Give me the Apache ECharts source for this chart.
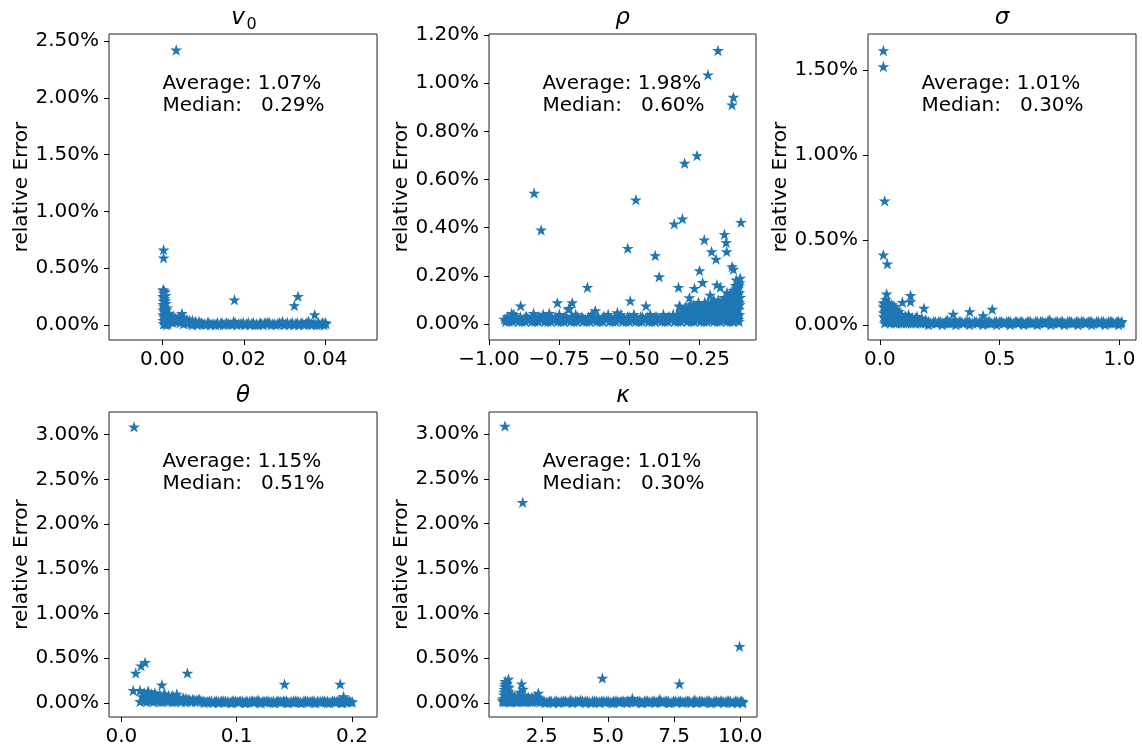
<!DOCTYPE html>
<html><head><meta charset="utf-8">
<script src="https://cdn.jsdelivr.net/npm/echarts@6/dist/echarts.min.js"></script>
<style>html,body{margin:0;padding:0;background:#fff}#c{width:1142px;height:749px}</style>
</head><body><div id="c"></div>
<script>
// ---------- DATA (relative error in %) ----------
const v0Outliers = [[0.0034,2.42],[0.0003,0.66],[0.0003,0.59],[0.0177,0.22],[0.0324,0.17],[0.0333,0.25],[0.0374,0.09]];
const v0Cluster = [[0.0002,0.31],[0.0004,0.30],[0.0003,0.28],[0.0006,0.29],[0.0002,0.25],[0.0005,0.23],[0.0003,0.21],[0.0008,0.26],[0.0002,0.18],[0.0004,0.16],[0.0009,0.19],[0.0002,0.13],[0.0006,0.11],[0.0002,0.09],[0.0004,0.07],[0.0010,0.13],[0.0002,0.04],[0.0007,0.03],[0.0011,0.08],[0.0003,0.01],[0.0009,0.02],[0.0013,0.05],[0.0012,0.15],
 [0.0016,0.10],[0.0022,0.07],[0.0027,0.08],[0.0033,0.06],[0.0040,0.07],[0.0048,0.10],[0.0054,0.06],[0.0060,0.05],[0.0067,0.04],[0.0074,0.04],[0.0082,0.03],[0.0090,0.03],[0.0018,0.03],[0.0026,0.02],[0.0035,0.03],[0.0044,0.02],[0.0052,0.01],[0.0062,0.02],[0.0014,0.01]];
const v0Band = [[0.0070,0.01],[0.0078,0.02],[0.0086,0.00],[0.0095,0.02],[0.0103,0.01],[0.0111,0.02],[0.0118,0.00],[0.0127,0.01],[0.0135,0.02],[0.0143,0.01],[0.0150,0.00],[0.0158,0.02],[0.0167,0.01],[0.0175,0.03],[0.0183,0.00],[0.0191,0.01],[0.0199,0.02],[0.0207,0.01],[0.0215,0.00],[0.0223,0.02],[0.0231,0.01],[0.0240,0.02],[0.0248,0.00],[0.0256,0.01],[0.0263,0.02],[0.0271,0.01],[0.0279,0.00],[0.0287,0.02],[0.0295,0.03],[0.0303,0.01],[0.0311,0.00],[0.0319,0.02],[0.0327,0.01],[0.0335,0.00],[0.0343,0.02],[0.0351,0.01],[0.0359,0.03],[0.0367,0.00],[0.0375,0.01],[0.0383,0.02],[0.0390,0.01],[0.0397,0.00],[0.0402,0.01],
 [0.0074,0.00],[0.0090,0.01],[0.0107,0.00],[0.0122,0.01],[0.0139,0.00],[0.0154,0.01],[0.0171,0.00],[0.0187,0.01],[0.0203,0.00],[0.0219,0.01],[0.0235,0.00],[0.0252,0.02],[0.0267,0.00],[0.0283,0.01],[0.0299,0.00],[0.0315,0.01],[0.0331,0.02],[0.0347,0.00],[0.0363,0.01],[0.0379,0.00],[0.0394,0.02]];
const v0Fill = [[0.0066,0.02],[0.0082,0.01],[0.0099,0.01],[0.0114,0.02],[0.0131,0.00],[0.0146,0.02],[0.0162,0.01],[0.0179,0.02],[0.0195,0.01],[0.0211,0.02],[0.0227,0.00],[0.0244,0.01],[0.0259,0.02],[0.0275,0.01],[0.0291,0.01],[0.0307,0.02],[0.0323,0.00],[0.0339,0.01],[0.0355,0.02],[0.0371,0.01],[0.0386,0.00],[0.0400,0.02],[0.0058,0.03],[0.0045,0.04],[0.0030,0.03],[0.0020,0.05],[0.0010,0.00],[0.0006,0.01],[0.0008,0.06],[0.0005,0.14],[0.0007,0.21],[0.0004,0.25]];

const rhoOutliers = [[-0.183,1.135],[-0.219,1.034],[-0.128,0.941],[-0.133,0.909],[-0.258,0.699],[-0.302,0.667],[-0.839,0.543],[-0.476,0.515],[-0.814,0.390],[-0.101,0.422],[-0.310,0.436],[-0.339,0.415],[-0.160,0.372],[-0.232,0.349],[-0.154,0.338],[-0.505,0.314],[-0.206,0.300],[-0.152,0.300],[-0.190,0.269],[-0.407,0.284],[-0.133,0.238],[-0.128,0.227],[-0.249,0.221],[-0.393,0.196],[-0.104,0.190],[-0.649,0.152],[-0.324,0.152],[-0.238,0.172],[-0.267,0.148],[-0.187,0.162],[-0.175,0.152],[-0.151,0.130],[-0.211,0.120],[-0.285,0.109],[-0.496,0.096],[-0.756,0.088],[-0.703,0.088],[-0.887,0.075],[-0.440,0.075],[-0.321,0.075],[-0.714,0.065],[-0.621,0.055],[-0.785,0.044],[-0.919,0.044],[-0.716,0.061],[-0.841,0.044],[-0.542,0.047],[-0.118,0.183]];
const rhoCluster = [[-0.298,0.06],[-0.290,0.04],[-0.282,0.08],[-0.275,0.05],[-0.268,0.07],[-0.260,0.03],[-0.253,0.09],[-0.246,0.06],[-0.240,0.04],[-0.233,0.08],[-0.226,0.05],[-0.219,0.09],[-0.212,0.03],[-0.205,0.07],[-0.198,0.10],[-0.192,0.05],[-0.185,0.08],[-0.178,0.04],[-0.172,0.09],[-0.166,0.06],[-0.160,0.11],[-0.154,0.03],[-0.148,0.08],[-0.143,0.12],[-0.138,0.05],[-0.133,0.10],[-0.128,0.14],[-0.124,0.07],[-0.120,0.16],[-0.116,0.11],[-0.113,0.04],[-0.110,0.15],[-0.107,0.09],[-0.106,0.17],[-0.114,0.13],[-0.122,0.12],[-0.131,0.06],[-0.141,0.09],[-0.151,0.05],[-0.163,0.07],[-0.175,0.06],[-0.188,0.03],[-0.201,0.04],[-0.215,0.06],[-0.229,0.03],[-0.243,0.05],[-0.257,0.06],[-0.272,0.03],[-0.286,0.05],[-0.305,0.04],[-0.318,0.07],[-0.110,0.02],[-0.126,0.03],[-0.145,0.02],[-0.170,0.02],[-0.195,0.02],[-0.220,0.02],[-0.250,0.02],[-0.280,0.02],
 [-0.330,0.04],[-0.314,0.05],[-0.300,0.07],[-0.294,0.03],[-0.287,0.07],[-0.279,0.05],[-0.271,0.08],[-0.264,0.05],[-0.256,0.07],[-0.249,0.04],[-0.242,0.07],[-0.236,0.06],[-0.230,0.09],[-0.223,0.07],[-0.216,0.05],[-0.209,0.08],[-0.202,0.06],[-0.195,0.08],[-0.189,0.06],[-0.182,0.10],[-0.176,0.08],[-0.169,0.05],[-0.163,0.09],[-0.157,0.08],[-0.151,0.10],[-0.145,0.06],[-0.140,0.10],[-0.135,0.08],[-0.130,0.12],[-0.126,0.10],[-0.122,0.05],[-0.118,0.13],[-0.115,0.08],[-0.112,0.12],[-0.109,0.06],[-0.107,0.13],[-0.105,0.08],[-0.104,0.11],[-0.108,0.16],[-0.117,0.15],[-0.125,0.12],[-0.136,0.13]];
const rhoBand = [[-0.945,0.02],[-0.934,0.03],[-0.922,0.02],[-0.911,0.04],[-0.899,0.02],[-0.888,0.03],[-0.876,0.02],[-0.865,0.03],[-0.853,0.02],[-0.842,0.03],[-0.830,0.02],[-0.818,0.03],[-0.807,0.04],[-0.796,0.02],[-0.784,0.03],[-0.772,0.02],[-0.761,0.03],[-0.749,0.04],[-0.738,0.02],[-0.726,0.03],[-0.714,0.02],[-0.703,0.03],[-0.691,0.04],[-0.680,0.02],[-0.668,0.03],[-0.657,0.02],[-0.645,0.03],[-0.633,0.04],[-0.622,0.02],[-0.610,0.03],[-0.599,0.02],[-0.587,0.03],[-0.575,0.04],[-0.564,0.02],[-0.552,0.03],[-0.541,0.02],[-0.529,0.04],[-0.517,0.02],[-0.506,0.03],[-0.494,0.02],[-0.483,0.04],[-0.471,0.02],[-0.459,0.03],[-0.448,0.02],[-0.436,0.03],[-0.425,0.04],[-0.413,0.02],[-0.401,0.03],[-0.390,0.02],[-0.378,0.04],[-0.367,0.02],[-0.355,0.03],[-0.343,0.04],[-0.332,0.02],[-0.320,0.03],[-0.309,0.02],[-0.297,0.03],[-0.285,0.02],[-0.274,0.03],[-0.262,0.02],[-0.250,0.03],[-0.239,0.02],[-0.227,0.03],[-0.216,0.02],[-0.204,0.03],[-0.192,0.02],[-0.181,0.03],[-0.169,0.02],[-0.158,0.03],[-0.146,0.02],[-0.134,0.03],[-0.123,0.02],[-0.112,0.03],[-0.106,0.04],
 [-0.940,0.01],[-0.916,0.01],[-0.893,0.01],[-0.870,0.01],[-0.847,0.01],[-0.824,0.01],[-0.801,0.01],[-0.778,0.01],[-0.755,0.01],[-0.732,0.01],[-0.709,0.01],[-0.686,0.01],[-0.663,0.01],[-0.640,0.01],[-0.616,0.01],[-0.593,0.01],[-0.570,0.01],[-0.547,0.01],[-0.523,0.01],[-0.500,0.01],[-0.477,0.01],[-0.454,0.01],[-0.430,0.01],[-0.407,0.01],[-0.384,0.01],[-0.361,0.01],[-0.338,0.01],[-0.315,0.01],[-0.292,0.01],[-0.268,0.01],[-0.245,0.01],[-0.222,0.01],[-0.198,0.01],[-0.175,0.01],[-0.152,0.01],[-0.129,0.01],[-0.108,0.01]];
const rhoFill = [[-0.939,0.02],[-0.928,0.01],[-0.916,0.03],[-0.905,0.02],[-0.893,0.02],[-0.882,0.01],[-0.870,0.03],[-0.859,0.02],[-0.847,0.02],[-0.836,0.01],[-0.824,0.03],[-0.812,0.02],[-0.801,0.02],[-0.790,0.01],[-0.778,0.03],[-0.766,0.02],[-0.755,0.02],[-0.743,0.01],[-0.732,0.03],[-0.720,0.02],[-0.708,0.02],[-0.697,0.01],[-0.685,0.03],[-0.674,0.02],[-0.662,0.02],[-0.651,0.01],[-0.639,0.03],[-0.627,0.02],[-0.616,0.02],[-0.604,0.01],[-0.593,0.03],[-0.581,0.02],[-0.569,0.02],[-0.558,0.01],[-0.546,0.03],[-0.535,0.02],[-0.523,0.02],[-0.511,0.01],[-0.500,0.03],[-0.488,0.02],[-0.477,0.02],[-0.465,0.01],[-0.453,0.03],[-0.442,0.02],[-0.430,0.02],[-0.419,0.01],[-0.407,0.03],[-0.395,0.02],[-0.384,0.02],[-0.372,0.01],[-0.361,0.03],[-0.349,0.02],[-0.337,0.02],[-0.326,0.01],[-0.314,0.03],[-0.303,0.02],[-0.291,0.02],[-0.279,0.01],[-0.268,0.03],[-0.256,0.02],[-0.244,0.02],[-0.233,0.01],[-0.221,0.03],[-0.210,0.02],[-0.198,0.02],[-0.186,0.01],[-0.175,0.03],[-0.163,0.02],[-0.152,0.02],[-0.140,0.01],[-0.128,0.03],[-0.117,0.02]];

const sigmaOutliers = [[0.0146,1.614],[0.0146,1.519],[0.020,0.729],[0.0146,0.412],[0.031,0.359],[0.028,0.182],[0.128,0.173],[0.128,0.137],[0.094,0.133],[0.184,0.098],[0.306,0.063],[0.375,0.078],[0.431,0.055],[0.469,0.092]];
const sigmaCluster = [[0.015,0.13],[0.018,0.10],[0.016,0.07],[0.022,0.12],[0.025,0.15],[0.020,0.04],[0.030,0.11],[0.033,0.08],[0.028,0.05],[0.038,0.13],[0.042,0.10],[0.036,0.03],[0.046,0.07],[0.050,0.12],[0.055,0.09],[0.048,0.04],[0.060,0.11],[0.065,0.06],[0.070,0.09],[0.058,0.02],[0.075,0.05],[0.080,0.08],[0.086,0.04],[0.092,0.06],[0.098,0.03],[0.105,0.05],[0.112,0.04],[0.120,0.06],[0.135,0.04],[0.145,0.03],[0.155,0.05],[0.165,0.03],[0.175,0.04],[0.190,0.03],[0.070,0.01],[0.085,0.02],[0.100,0.01],[0.118,0.02],[0.140,0.01],[0.160,0.02],[0.180,0.01],[0.020,0.01],[0.035,0.02],[0.045,0.01],
 [0.016,0.11],[0.017,0.05],[0.019,0.13],[0.021,0.08],[0.023,0.02],[0.024,0.10],[0.026,0.12],[0.027,0.06],[0.029,0.13],[0.031,0.09],[0.032,0.03],[0.034,0.11],[0.037,0.06],[0.040,0.12],[0.041,0.04],[0.044,0.09],[0.047,0.11],[0.049,0.06],[0.052,0.08],[0.053,0.02],[0.057,0.10],[0.062,0.08],[0.067,0.04],[0.072,0.07],[0.078,0.06],[0.083,0.03],[0.089,0.05],[0.095,0.04],[0.102,0.03],[0.108,0.05],[0.116,0.03],[0.124,0.04],[0.130,0.03],[0.150,0.04],[0.170,0.02],[0.185,0.02],[0.060,0.01],[0.075,0.02],[0.090,0.01],[0.110,0.01],[0.130,0.01],[0.150,0.01],[0.170,0.01],[0.190,0.01]];
const sigmaBand = [[0.196,0.02],[0.211,0.01],[0.224,0.02],[0.239,0.01],[0.253,0.02],[0.268,0.01],[0.281,0.03],[0.296,0.01],[0.310,0.02],[0.324,0.01],[0.338,0.02],[0.352,0.01],[0.367,0.02],[0.380,0.01],[0.395,0.02],[0.409,0.01],[0.423,0.02],[0.437,0.01],[0.452,0.02],[0.465,0.01],[0.480,0.02],[0.494,0.01],[0.508,0.02],[0.522,0.01],[0.537,0.02],[0.550,0.01],[0.565,0.02],[0.579,0.01],[0.593,0.02],[0.607,0.01],[0.622,0.02],[0.635,0.01],[0.650,0.02],[0.664,0.01],[0.678,0.02],[0.692,0.01],[0.707,0.03],[0.720,0.01],[0.735,0.02],[0.749,0.01],[0.763,0.02],[0.777,0.01],[0.792,0.02],[0.805,0.01],[0.820,0.02],[0.834,0.01],[0.848,0.02],[0.862,0.01],[0.877,0.02],[0.890,0.01],[0.905,0.02],[0.919,0.01],[0.933,0.02],[0.947,0.01],[0.962,0.02],[0.975,0.01],[0.990,0.02],[1.003,0.01],[1.010,0.02],
 [0.203,0.00],[0.232,0.01],[0.260,0.00],[0.289,0.01],[0.317,0.00],[0.345,0.01],[0.374,0.00],[0.402,0.01],[0.430,0.00],[0.459,0.01],[0.487,0.00],[0.515,0.01],[0.544,0.00],[0.572,0.01],[0.600,0.00],[0.629,0.01],[0.657,0.00],[0.685,0.01],[0.714,0.00],[0.742,0.01],[0.770,0.00],[0.799,0.01],[0.827,0.00],[0.855,0.01],[0.884,0.00],[0.912,0.01],[0.940,0.00],[0.969,0.01],[0.997,0.00]];
const sigmaFill = [[0.2035,0.02],[0.2175,0.01],[0.2315,0.02],[0.2460,0.02],[0.2605,0.01],[0.2745,0.02],[0.2885,0.02],[0.3030,0.01],[0.3170,0.02],[0.3310,0.02],[0.3450,0.01],[0.3595,0.02],[0.3735,0.02],[0.3875,0.01],[0.4020,0.02],[0.4160,0.02],[0.4300,0.01],[0.4445,0.02],[0.4585,0.02],[0.4725,0.01],[0.4870,0.02],[0.5010,0.02],[0.5150,0.01],[0.5295,0.02],[0.5435,0.02],[0.5575,0.01],[0.5720,0.02],[0.5860,0.02],[0.6000,0.01],[0.6145,0.02],[0.6285,0.02],[0.6425,0.01],[0.6570,0.02],[0.6710,0.02],[0.6850,0.01],[0.6995,0.02],[0.7135,0.02],[0.7275,0.01],[0.7420,0.02],[0.7560,0.02],[0.7700,0.01],[0.7845,0.02],[0.7985,0.02],[0.8125,0.01],[0.8270,0.02],[0.8410,0.02],[0.8550,0.01],[0.8695,0.02],[0.8835,0.02],[0.8975,0.01],[0.9120,0.02],[0.9260,0.02],[0.9400,0.01],[0.9545,0.02],[0.9685,0.02],[0.9825,0.01],[0.9965,0.02],[1.0065,0.01]];

const thetaOutliers = [[0.011,3.086],[0.0125,0.332],[0.0171,0.414],[0.0206,0.451],[0.0573,0.332],[0.0351,0.201],[0.1415,0.209],[0.1898,0.209],[0.0104,0.138],[0.0162,0.138],[0.0234,0.127],[0.0162,0.015],[0.0481,0.097],[0.1927,0.07]];
const thetaCluster = [[0.019,0.10],[0.021,0.06],[0.023,0.12],[0.025,0.08],[0.027,0.04],[0.029,0.11],[0.031,0.07],[0.033,0.09],[0.035,0.05],[0.037,0.10],[0.039,0.06],[0.041,0.08],[0.043,0.04],[0.045,0.07],[0.047,0.05],[0.050,0.06],[0.053,0.04],[0.056,0.05],[0.059,0.03],[0.062,0.04],[0.065,0.03],[0.068,0.04],[0.020,0.02],[0.024,0.03],[0.028,0.01],[0.032,0.02],[0.036,0.01],[0.040,0.02],[0.044,0.01],[0.048,0.02],[0.052,0.01],[0.057,0.02],[0.061,0.01],[0.066,0.02],
 [0.018,0.07],[0.020,0.11],[0.022,0.09],[0.024,0.05],[0.026,0.10],[0.028,0.07],[0.030,0.09],[0.032,0.05],[0.034,0.08],[0.036,0.06],[0.038,0.08],[0.040,0.05],[0.042,0.06],[0.044,0.08],[0.046,0.04],[0.049,0.05],[0.051,0.03],[0.054,0.05],[0.058,0.04],[0.063,0.03],[0.067,0.03],[0.022,0.01],[0.026,0.02],[0.030,0.03],[0.034,0.01],[0.038,0.03],[0.042,0.02],[0.046,0.01],[0.050,0.03],[0.055,0.01],[0.060,0.02],[0.064,0.01]];
const thetaBand = [[0.0700,0.02],[0.0735,0.01],[0.0762,0.02],[0.0797,0.00],[0.0826,0.02],[0.0858,0.01],[0.0884,0.02],[0.0919,0.01],[0.0947,0.00],[0.0975,0.02],[0.1009,0.01],[0.1036,0.02],[0.1068,0.00],[0.1095,0.01],[0.1127,0.02],[0.1152,0.01],[0.1186,0.03],[0.1214,0.00],[0.1241,0.01],[0.1273,0.02],[0.1302,0.01],[0.1334,0.00],[0.1361,0.02],[0.1392,0.01],[0.1419,0.02],[0.1451,0.00],[0.1478,0.01],[0.1510,0.02],[0.1537,0.01],[0.1569,0.00],[0.1596,0.02],[0.1628,0.01],[0.1655,0.02],[0.1687,0.00],[0.1714,0.01],[0.1746,0.02],[0.1773,0.01],[0.1805,0.00],[0.1832,0.02],[0.1864,0.01],[0.1891,0.03],[0.1922,0.00],[0.1950,0.01],[0.1978,0.02],[0.2003,0.01],
 [0.0718,0.00],[0.0780,0.01],[0.0840,0.00],[0.0902,0.01],[0.0960,0.00],[0.1022,0.01],[0.1081,0.00],[0.1140,0.01],[0.1200,0.00],[0.1259,0.01],[0.1318,0.00],[0.1377,0.01],[0.1436,0.00],[0.1494,0.01],[0.1553,0.00],[0.1612,0.01],[0.1671,0.00],[0.1730,0.01],[0.1789,0.00],[0.1848,0.01],[0.1907,0.00],[0.1965,0.01]];
const thetaFill = [[0.0717,0.02],[0.0749,0.01],[0.0780,0.02],[0.0812,0.02],[0.0842,0.01],[0.0871,0.02],[0.0902,0.02],[0.0933,0.01],[0.0961,0.02],[0.0992,0.02],[0.1022,0.01],[0.1052,0.02],[0.1082,0.02],[0.1111,0.01],[0.1140,0.02],[0.1169,0.02],[0.1200,0.01],[0.1228,0.02],[0.1257,0.02],[0.1288,0.01],[0.1318,0.02],[0.1348,0.02],[0.1377,0.01],[0.1406,0.02],[0.1435,0.02],[0.1465,0.01],[0.1494,0.02],[0.1524,0.02],[0.1553,0.01],[0.1583,0.02],[0.1612,0.02],[0.1642,0.01],[0.1671,0.02],[0.1701,0.02],[0.1730,0.01],[0.1760,0.02],[0.1789,0.02],[0.1819,0.01],[0.1848,0.02],[0.1878,0.02],[0.1907,0.01],[0.1936,0.02],[0.1964,0.02],[0.1991,0.01]];

const kappaOutliers = [[1.11,3.086],[1.78,2.235],[9.97,0.63],[4.79,0.276],[7.70,0.213],[1.24,0.265],[1.15,0.20],[1.74,0.213],[1.80,0.153],[2.37,0.108]];
const kappaCluster = [[1.05,0.05],[1.08,0.12],[1.10,0.18],[1.12,0.24],[1.14,0.08],[1.17,0.15],[1.19,0.22],[1.21,0.03],[1.23,0.11],[1.26,0.17],[1.28,0.06],[1.31,0.09],[1.35,0.04],[1.40,0.07],[1.45,0.05],[1.50,0.06],[1.56,0.04],[1.62,0.07],[1.68,0.12],[1.72,0.05],[1.78,0.08],[1.85,0.05],[1.92,0.04],[2.00,0.06],[2.08,0.04],[2.16,0.05],[2.25,0.07],[2.33,0.06],[2.42,0.04],[2.50,0.03],[1.04,0.01],[1.15,0.02],[1.25,0.01],[1.38,0.02],[1.52,0.01],[1.65,0.02],[1.80,0.01],[1.95,0.02],[2.10,0.01],[2.28,0.02],[2.45,0.01],
 [1.06,0.09],[1.09,0.15],[1.11,0.21],[1.13,0.12],[1.16,0.05],[1.18,0.11],[1.20,0.18],[1.22,0.07],[1.25,0.13],[1.27,0.09],[1.30,0.05],[1.33,0.07],[1.37,0.05],[1.42,0.04],[1.47,0.07],[1.53,0.05],[1.59,0.06],[1.65,0.05],[1.70,0.08],[1.75,0.04],[1.82,0.06],[1.88,0.04],[1.96,0.05],[2.04,0.04],[2.12,0.06],[2.20,0.04],[2.29,0.05],[2.38,0.03],[2.46,0.02],[1.02,0.03],[1.07,0.02],[1.12,0.01],[1.20,0.02],[1.32,0.01],[1.45,0.02],[1.58,0.01],[1.72,0.02],[1.88,0.01],[2.02,0.02],[2.18,0.01],[2.36,0.02]];
const kappaBand = [[2.55,0.02],[2.68,0.01],[2.80,0.02],[2.94,0.00],[3.06,0.02],[3.19,0.01],[3.33,0.02],[3.45,0.01],[3.58,0.03],[3.71,0.01],[3.84,0.02],[3.97,0.03],[4.10,0.01],[4.23,0.02],[4.36,0.00],[4.49,0.02],[4.62,0.01],[4.75,0.02],[4.88,0.01],[5.01,0.02],[5.14,0.00],[5.27,0.02],[5.40,0.01],[5.53,0.02],[5.66,0.01],[5.79,0.02],[5.92,0.05],[6.05,0.01],[6.18,0.02],[6.31,0.00],[6.44,0.02],[6.57,0.01],[6.70,0.02],[6.83,0.01],[6.96,0.04],[7.09,0.01],[7.22,0.02],[7.35,0.00],[7.48,0.02],[7.61,0.01],[7.74,0.02],[7.87,0.01],[8.00,0.02],[8.13,0.00],[8.26,0.03],[8.39,0.01],[8.52,0.02],[8.65,0.01],[8.78,0.02],[8.91,0.00],[9.04,0.02],[9.17,0.01],[9.30,0.02],[9.43,0.01],[9.56,0.02],[9.69,0.00],[9.82,0.02],[9.95,0.01],[10.06,0.02],[10.10,0.01],
 [2.62,0.00],[2.87,0.01],[3.13,0.00],[3.39,0.01],[3.65,0.00],[3.91,0.01],[4.17,0.00],[4.43,0.01],[4.69,0.00],[4.95,0.01],[5.21,0.00],[5.47,0.01],[5.73,0.00],[5.99,0.01],[6.25,0.00],[6.51,0.01],[6.77,0.00],[7.03,0.01],[7.29,0.00],[7.55,0.01],[7.81,0.00],[8.07,0.01],[8.33,0.00],[8.59,0.01],[8.85,0.00],[9.11,0.01],[9.37,0.00],[9.63,0.01],[9.89,0.00],[10.08,0.00]];
const kappaFill = [[2.59,0.02],[2.74,0.01],[2.85,0.02],[3.00,0.02],[3.12,0.01],[3.26,0.02],[3.39,0.02],[3.52,0.01],[3.64,0.02],[3.78,0.02],[3.90,0.01],[4.04,0.02],[4.16,0.02],[4.30,0.01],[4.42,0.02],[4.56,0.02],[4.68,0.01],[4.82,0.02],[4.94,0.02],[5.08,0.01],[5.20,0.02],[5.34,0.02],[5.46,0.01],[5.60,0.02],[5.72,0.02],[5.86,0.01],[5.98,0.02],[6.12,0.02],[6.24,0.01],[6.38,0.02],[6.50,0.02],[6.64,0.01],[6.76,0.02],[6.90,0.02],[7.02,0.01],[7.16,0.02],[7.28,0.02],[7.42,0.01],[7.54,0.02],[7.68,0.02],[7.80,0.01],[7.94,0.02],[8.06,0.02],[8.20,0.01],[8.32,0.02],[8.46,0.02],[8.58,0.01],[8.72,0.02],[8.84,0.02],[8.98,0.01],[9.10,0.02],[9.24,0.02],[9.36,0.01],[9.50,0.02],[9.62,0.02],[9.76,0.01],[9.88,0.02],[10.02,0.02]];

// ticks
const v0XTicks = [0, 0.02, 0.04];
const v0YTicks = [0, 0.5, 1, 1.5, 2, 2.5];
const rhoXTicks = [-1, -0.75, -0.5, -0.25];
const rhoYTicks = [0, 0.2, 0.4, 0.6, 0.8, 1.0, 1.2];
const sigmaXTicks = [0, 0.5, 1.0];
const sigmaYTicks = [0, 0.5, 1.0, 1.5];
const thetaXTicks = [0, 0.1, 0.2];
const thetaYTicks = [0, 0.5, 1.0, 1.5, 2.0, 2.5, 3.0];
const kappaXTicks = [2.5, 5.0, 7.5, 10.0];
const kappaYTicks = [0, 0.5, 1.0, 1.5, 2.0, 2.5, 3.0];

const averages = ['1.07%', '1.98%', '1.01%', '1.15%', '1.01%'];
const medians = ['0.29%', '0.60%', '0.30%', '0.51%', '0.30%'];
const titles = ['v', 'ρ', 'σ', 'θ', 'κ'];

// ---------- LAYOUT ----------
const FONT = '"DejaVu Sans", sans-serif';
const FS = 20;
const BLUE = '#1f77b4';
const STAR = 'path://M0,-1L0.2245,-0.309L0.9511,-0.309L0.3633,0.118L0.5878,0.809L0,0.382L-0.5878,0.809L-0.3633,0.118L-0.9511,-0.309L-0.2245,-0.309Z';

const panels = [
  {grid:{left:109, top:34, width:268, height:306}, x:[-0.0131,0.0527], y:[-0.132,2.562], xt:v0XTicks, yt:v0YTicks, xd:2, data:[v0Band, v0Fill, v0Cluster, v0Outliers]},
  {grid:{left:489, top:34, width:267, height:306}, x:[-1.0,-0.0475], y:[-0.066,1.204], xt:rhoXTicks, yt:rhoYTicks, xd:2, data:[rhoBand, rhoFill, rhoCluster, rhoOutliers]},
  {grid:{left:868, top:34, width:268, height:306}, x:[-0.0496,1.069], y:[-0.088,1.712], xt:sigmaXTicks, yt:sigmaYTicks, xd:1, data:[sigmaBand, sigmaFill, sigmaCluster, sigmaOutliers]},
  {grid:{left:109, top:412, width:268, height:305}, x:[-0.0107,0.2217], y:[-0.157,3.254], xt:thetaXTicks, yt:thetaYTicks, xd:1, data:[thetaBand, thetaFill, thetaCluster, thetaOutliers]},
  {grid:{left:489, top:412, width:268, height:305}, x:[0.507,10.63], y:[-0.156,3.245], xt:kappaXTicks, yt:kappaYTicks, xd:1, data:[kappaBand, kappaFill, kappaCluster, kappaOutliers]}
];

const grids = [], xAxes = [], yAxes = [], series = [], graphics = [];
const labelStyle = {color:'#000', fontSize:FS, fontFamily:FONT};
panels.forEach((p, i) => {
  grids.push(Object.assign({show:true, borderColor:'#222', borderWidth:1, backgroundColor:'#fff', containLabel:false}, p.grid));
  xAxes.push({gridIndex:i, type:'value', min:p.x[0], max:p.x[1],
    axisLine:{show:false, onZero:false},
    axisTick:{show:true, length:5, customValues:p.xt, lineStyle:{color:'#000', width:1}},
    axisLabel:Object.assign({margin:10, customValues:p.xt, formatter:v => v.toFixed(p.xd).replace('-', '\u2212')}, labelStyle),
    splitLine:{show:false}});
  yAxes.push({gridIndex:i, type:'value', min:p.y[0], max:p.y[1],
    name:'relative Error', nameLocation:'middle', nameRotate:90, nameGap:76,
    nameTextStyle:{color:'#000', fontSize:FS, fontFamily:FONT},
    axisLine:{show:false, onZero:false},
    axisTick:{show:true, length:5, customValues:p.yt, lineStyle:{color:'#000', width:1}},
    axisLabel:Object.assign({margin:10, customValues:p.yt, formatter:v => v.toFixed(2) + '%'}, labelStyle),
    splitLine:{show:false}});
  series.push({type:'scatter', xAxisIndex:i, yAxisIndex:i, data:[].concat(...p.data),
    symbol:STAR, symbolSize:[8,7.6], silent:true, large:false,
    itemStyle:{color:BLUE, borderColor:BLUE, borderWidth:1.3, opacity:1}});
  const g = p.grid, cx = g.left + g.width / 2;
  if (i === 0) {
    graphics.push({type:'text', x:238, y:g.top - 16, style:{text:titles[i], font:'italic 23px ' + FONT, fill:'#000', align:'center', verticalAlign:'middle'}});
    graphics.push({type:'text', x:251.5, y:g.top - 9.5, style:{text:'0', font:'16px ' + FONT, fill:'#000', align:'center', verticalAlign:'middle'}});
  } else {
    graphics.push({type:'text', x:cx, y:g.top - 16, style:{text:titles[i], font:'italic 23px ' + FONT, fill:'#000', align:'center', verticalAlign:'middle'}});
  }
  graphics.push({type:'text', x:g.left + 53.5, y:g.top + 50, style:{text:'Average: ' + averages[i], font:FS + 'px ' + FONT, fill:'#000', align:'left', verticalAlign:'middle'}});
  graphics.push({type:'text', x:g.left + 53.5, y:g.top + 72, style:{text:'Median:   ' + medians[i], font:FS + 'px ' + FONT, fill:'#000', align:'left', verticalAlign:'middle'}});
});

const chart = echarts.init(document.getElementById('c'), null, {renderer:'canvas'});
chart.setOption({animation:false, backgroundColor:'#fff', grid:grids, xAxis:xAxes, yAxis:yAxes, series:series, graphic:{elements:graphics}});
</script></body></html>
